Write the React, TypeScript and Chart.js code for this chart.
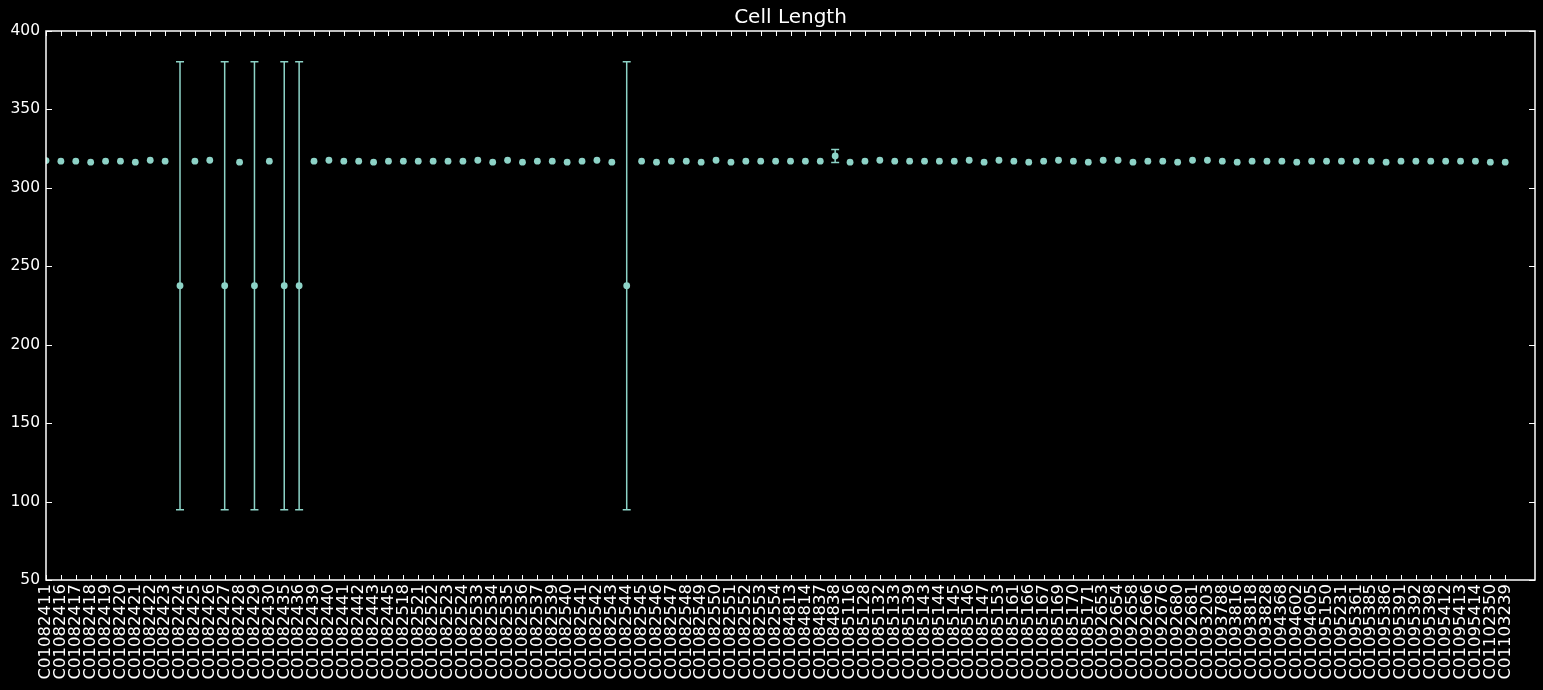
import React, { useEffect, useRef } from "react";
import { Chart, registerables } from "chart.js";

Chart.register(...registerables);

const cellIds = [
  "C01082411", "C01082416", "C01082417", "C01082418", "C01082419", "C01082420", "C01082421", "C01082422", "C01082423", "C01082424",
  "C01082425", "C01082426", "C01082427", "C01082428", "C01082429", "C01082430", "C01082435", "C01082436", "C01082439", "C01082440",
  "C01082441", "C01082442", "C01082443", "C01082445", "C01082518", "C01082521", "C01082522", "C01082523", "C01082524", "C01082533",
  "C01082534", "C01082535", "C01082536", "C01082537", "C01082539", "C01082540", "C01082541", "C01082542", "C01082543", "C01082544",
  "C01082545", "C01082546", "C01082547", "C01082548", "C01082549", "C01082550", "C01082551", "C01082552", "C01082553", "C01082554",
  "C01084813", "C01084814", "C01084837", "C01084838", "C01085116", "C01085128", "C01085132", "C01085133", "C01085139", "C01085143",
  "C01085144", "C01085145", "C01085146", "C01085147", "C01085153", "C01085161", "C01085166", "C01085167", "C01085169", "C01085170",
  "C01085171", "C01092653", "C01092654", "C01092658", "C01092666", "C01092676", "C01092680", "C01092681", "C01093203", "C01093788",
  "C01093816", "C01093818", "C01093828", "C01094368", "C01094602", "C01094605", "C01095150", "C01095231", "C01095361", "C01095385",
  "C01095386", "C01095391", "C01095392", "C01095398", "C01095412", "C01095413", "C01095414", "C01102350", "C01103239",
];

const cellLength = [
  317.4, 317.0, 317.0, 316.4, 317.0, 317.0, 316.4, 317.6, 317.0, 237.6,
  317.0, 317.6, 237.6, 316.4, 237.6, 317.0, 237.6, 237.6, 317.0, 317.6,
  317.0, 317.0, 316.4, 317.0, 317.0, 317.0, 317.0, 317.0, 317.0, 317.6,
  316.4, 317.6, 316.4, 317.0, 317.0, 316.4, 317.0, 317.6, 316.4, 237.6,
  317.0, 316.4, 317.0, 317.0, 316.4, 317.6, 316.4, 317.0, 317.0, 317.0,
  317.0, 317.0, 317.0, 320.3, 316.4, 317.0, 317.6, 317.0, 317.0, 317.0,
  317.0, 317.0, 317.6, 316.4, 317.6, 317.0, 316.4, 317.0, 317.6, 317.0,
  316.4, 317.6, 317.6, 316.4, 317.0, 317.0, 316.4, 317.6, 317.6, 317.0,
  316.4, 317.0, 317.0, 317.0, 316.4, 317.0, 317.0, 317.0, 317.0, 317.0,
  316.4, 317.0, 317.0, 317.0, 317.0, 317.0, 317.0, 316.4, 316.4,
];

const cellLengthErr = [
  0, 0, 0, 0, 0, 0, 0, 0, 0, 142.8,
  0, 0, 142.8, 0, 142.8, 0, 142.8, 142.8, 0, 0,
  0, 0, 0, 0, 0, 0, 0, 0, 0, 0,
  0, 0, 0, 0, 0, 0, 0, 0, 0, 142.8,
  0, 0, 0, 0, 0, 0, 0, 0, 0, 0,
  0, 0, 0, 4.1, 0, 0, 0, 0, 0, 0,
  0, 0, 0, 0, 0, 0, 0, 0, 0, 0,
  0, 0, 0, 0, 0, 0, 0, 0, 0, 0,
  0, 0, 0, 0, 0, 0, 0, 0, 0, 0,
  0, 0, 0, 0, 0, 0, 0, 0, 0,
];

const yTickValues = [50, 100, 150, 200, 250, 300, 350, 400];

const TITLE = "Cell Length";
const COLOR = "#8dd3c7";
const FONT = "'DejaVu Sans', sans-serif";

export default function App() {
  const ref = useRef<HTMLCanvasElement>(null);

  useEffect(() => {
    const canvas = ref.current;
    if (!canvas) return;

    const errorBars = {
      id: "errorBars",
      beforeDatasetsDraw(chart: any) {
        const { ctx, chartArea, scales } = chart;
        const xs = scales.x;
        const ys = scales.y;
        ctx.save();
        ctx.beginPath();
        ctx.rect(chartArea.left, chartArea.top, chartArea.right - chartArea.left, chartArea.bottom - chartArea.top);
        ctx.clip();
        ctx.strokeStyle = COLOR;
        ctx.lineWidth = 1.5;
        cellLength.forEach((v, i) => {
          const e = cellLengthErr[i];
          if (!e) return;
          const x = xs.getPixelForValue(i);
          const yTop = ys.getPixelForValue(v + e);
          const yBot = ys.getPixelForValue(v - e);
          ctx.beginPath();
          ctx.moveTo(x, yTop);
          ctx.lineTo(x, yBot);
          ctx.moveTo(x - 4, yTop);
          ctx.lineTo(x + 4, yTop);
          ctx.moveTo(x - 4, yBot);
          ctx.lineTo(x + 4, yBot);
          ctx.stroke();
        });
        ctx.restore();
      },
    };

    const frame = {
      id: "frame",
      afterDraw(chart: any) {
        const { ctx, chartArea, scales } = chart;
        const { left, right, top, bottom } = chartArea;
        ctx.save();
        ctx.strokeStyle = "#ffffff";
        ctx.lineWidth = 1;
        ctx.beginPath();
        cellIds.forEach((_, i) => {
          const x = Math.round(scales.x.getPixelForValue(i)) + 0.5;
          ctx.moveTo(x, bottom);
          ctx.lineTo(x, bottom - 5);
          ctx.moveTo(x, top);
          ctx.lineTo(x, top + 5);
        });
        yTickValues.forEach((v) => {
          const y = Math.round(scales.y.getPixelForValue(v)) + 0.5;
          ctx.moveTo(left, y);
          ctx.lineTo(left + 6, y);
          ctx.moveTo(right, y);
          ctx.lineTo(right - 6, y);
        });
        ctx.stroke();
        ctx.lineWidth = 1.5;
        ctx.strokeRect(left, top, right - left, bottom - top);
        ctx.restore();
      },
    };

    const chart = new Chart(canvas, {
      type: "scatter",
      data: {
        datasets: [
          {
            label: TITLE,
            data: cellLength.map((v, i) => ({ x: i, y: v })),
            backgroundColor: COLOR,
            borderWidth: 0,
            pointRadius: 3.4,
            pointHoverRadius: 3.4,
            clip: 0,
          },
        ],
      },
      options: {
        animation: false,
        responsive: true,
        maintainAspectRatio: false,
        layout: { padding: { left: 0, right: 8, top: 0, bottom: 0 } },
        plugins: {
          legend: { display: false },
          tooltip: { enabled: false },
          title: {
            display: true,
            fullSize: false,
            text: TITLE,
            color: "#ffffff",
            font: { family: FONT, size: 20, weight: "normal", lineHeight: 1.2 },
            padding: { top: 6, bottom: 1 },
          },
        },
        scales: {
          x: {
            type: "linear",
            min: 0,
            max: 100,
            grid: { display: false, drawTicks: false },
            border: { display: false },
            afterBuildTicks: (s: any) => {
              s.ticks = cellIds.map((_, i) => ({ value: i }));
            },
            afterFit: (s: any) => {
              s.height = 110;
            },
            ticks: {
              autoSkip: false,
              minRotation: 90,
              maxRotation: 90,
              color: "#ffffff",
              font: { family: FONT, size: 16.5 },
              padding: 4,
              callback: (v: any) => cellIds[v as number] ?? "",
            },
          },
          y: {
            type: "linear",
            min: 50,
            max: 400,
            grid: { display: false, drawTicks: false },
            border: { display: false },
            afterFit: (s: any) => {
              s.width = 46;
            },
            ticks: {
              stepSize: 50,
              color: "#ffffff",
              font: { family: FONT, size: 15.5 },
              padding: 6,
            },
          },
        },
      },
      plugins: [errorBars, frame],
    });

    return () => chart.destroy();
  }, []);

  return (
    <div style={{ position: "fixed", left: 0, top: 0, width: 1543, height: 690, background: "#000" }}>
      <canvas ref={ref} />
    </div>
  );
}
